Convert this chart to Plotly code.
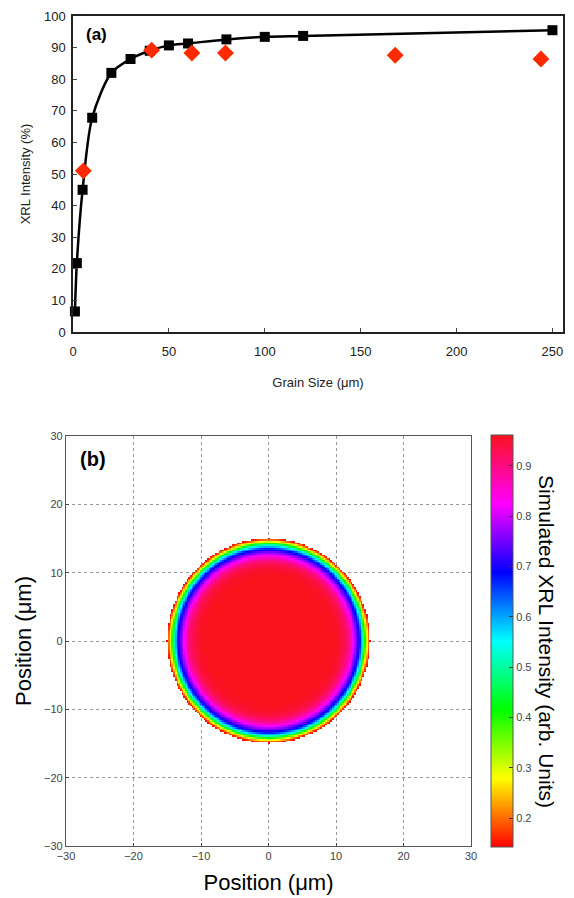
import numpy as np
import plotly.graph_objects as go

# ---- Panel (a) data ----
grain_size_sim = [1, 2, 5, 10, 20, 30, 40, 50, 60, 80, 100, 120, 250]
xrl_sim = [6.5, 21.8, 45.0, 67.8, 82.0, 86.4, 89.0, 90.7, 91.3, 92.6, 93.4, 93.7, 95.5]
grain_size_exp = [5.4, 41, 62, 79.5, 168, 244]
xrl_exp = [51.0, 89.2, 88.3, 88.3, 87.6, 86.4]

# ---- Panel (b) data: radial profile of simulated XRL intensity ----
radius_um = [0.0, 9.0, 10.0, 11.0, 11.8, 12.4, 12.8, 13.2, 13.5, 13.75, 13.95, 14.2, 14.5, 14.7, 14.9, 15.0]
intensity_profile = [0.961, 0.961, 0.957, 0.94, 0.90, 0.84, 0.78, 0.72, 0.67, 0.60, 0.54, 0.43, 0.30, 0.22, 0.16, 0.145]
grain_radius = 15.0
grid_step = 0.25

W, H = 574, 898
def px(x): return x / W
def py(y): return 1 - y / H

fig = go.Figure()

# (a)
fig.add_trace(go.Scatter(
    x=grain_size_sim, y=xrl_sim, mode="lines+markers",
    line=dict(color="black", width=2.5, shape="spline", smoothing=0.8),
    marker=dict(symbol="square", size=10, color="black"),
    cliponaxis=False, showlegend=False, xaxis="x", yaxis="y"))
fig.add_trace(go.Scatter(
    x=grain_size_exp, y=xrl_exp, mode="markers",
    marker=dict(symbol="diamond", size=13, color="#ff2a00"),
    cliponaxis=False, showlegend=False, xaxis="x", yaxis="y"))

# (b)
coords = np.arange(-16.0, 16.0 + grid_step / 2, grid_step)
XX, YY = np.meshgrid(coords, coords)
RR = np.sqrt(XX ** 2 + YY ** 2)
Z = np.interp(RR, radius_um, intensity_profile)
Z[RR > grain_radius] = np.nan

hsv_scale = [[0, "rgb(255,0,0)"], [1/6, "rgb(255,255,0)"], [2/6, "rgb(0,255,0)"],
             [3/6, "rgb(0,255,255)"], [4/6, "rgb(0,0,255)"], [5/6, "rgb(255,0,255)"],
             [1, "rgb(250,18,28)"]]

fig.add_trace(go.Heatmap(
    x=coords, y=coords, z=Z, zmin=0.143, zmax=0.961, colorscale=hsv_scale,
    xaxis="x2", yaxis="y2", hoverongaps=False,
    colorbar=dict(x=px(491), xanchor="left", y=py(435), yanchor="top",
                  len=412 / H, lenmode="fraction", thickness=22, thicknessmode="pixels",
                  xpad=0, ypad=0, outlinewidth=1, outlinecolor="#555",
                  tickvals=[0.2, 0.3, 0.4, 0.5, 0.6, 0.7, 0.8, 0.9],
                  ticks="inside", ticklen=4, tickcolor="#333",
                  tickfont=dict(family="Liberation Sans", size=11, color="#444"))))

font_main = "Liberation Sans, Arial, sans-serif"

fig.update_layout(
    width=W, height=H, margin=dict(l=0, r=0, t=0, b=0, autoexpand=False),
    paper_bgcolor="white", plot_bgcolor="white",
    font=dict(family=font_main, color="black"),
    xaxis=dict(domain=[px(73), px(563)], range=[0, 255.5], anchor="y", automargin=False,
               tickvals=[0, 50, 100, 150, 200, 250], ticks="inside", ticklen=4,
               ticklabelstandoff=7,
               showline=True, linecolor="#222", linewidth=1.5, mirror=True,
               showgrid=False, zeroline=False,
               tickfont=dict(size=13, color="#222"),
               title=dict(text="Grain Size (μm)", font=dict(size=13, color="#222"), standoff=20)),
    yaxis=dict(domain=[py(332), py(16)], range=[0, 100], anchor="x", automargin=False,
               tickvals=list(range(0, 101, 10)), ticks="inside", ticklen=4,
               ticklabelstandoff=3,
               showline=True, linecolor="#222", linewidth=1.5, mirror=True,
               showgrid=False, zeroline=False,
               tickfont=dict(size=13, color="#222"),
               title=dict(text="XRL Intensity (%)", font=dict(size=13, color="#222"), standoff=10)),
    xaxis2=dict(domain=[px(66), px(471)], range=[-30, 30], anchor="y2", automargin=False,
                tickvals=[-30, -20, -10, 0, 10, 20, 30], ticks="inside", ticklen=3,
                tickcolor="#444",
                showline=True, linecolor="#555", linewidth=1.2, mirror=True,
                showgrid=True, gridcolor="#999", griddash="dot", gridwidth=1,
                zeroline=False,
                tickfont=dict(size=11, color="#444"),
                title=dict(text="Position (μm)", font=dict(size=22, color="black"), standoff=13)),
    yaxis2=dict(domain=[py(846), py(436)], range=[-30, 30], anchor="x2", automargin=False,
                tickvals=[-30, -20, -10, 0, 10, 20, 30], ticks="inside", ticklen=3,
                tickcolor="#444",
                showline=True, linecolor="#555", linewidth=1.2, mirror=True,
                showgrid=True, gridcolor="#999", griddash="dot", gridwidth=1,
                zeroline=False,
                tickfont=dict(size=11, color="#444"),
                title=dict(text="Position (μm)", font=dict(size=22, color="black"), standoff=6)),
    annotations=[
        dict(text="<b>(a)</b>", x=px(84), y=py(35), xref="paper", yref="paper",
             xanchor="left", yanchor="middle", showarrow=False,
             font=dict(size=17, color="black")),
        dict(text="<b>(b)</b>", x=px(78), y=py(459), xref="paper", yref="paper",
             xanchor="left", yanchor="middle", showarrow=False,
             font=dict(size=20, color="black")),
        dict(text="Simulated XRL Intensity (arb. Units)", x=px(547), y=py(641),
             xref="paper", yref="paper", xanchor="center", yanchor="middle",
             textangle=90, showarrow=False, font=dict(size=21, color="black")),
    ],
)

fig.write_html("out.html", config={"displayModeBar": False},
               post_script="document.body.style.margin='0px';")
